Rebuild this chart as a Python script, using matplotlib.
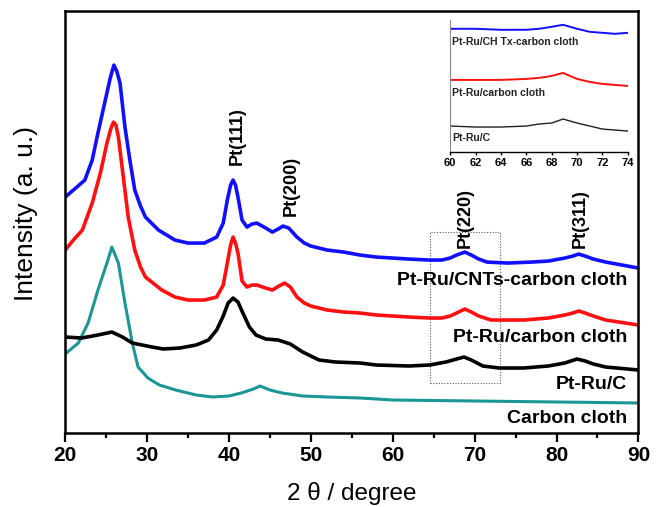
"""
XRD patterns: Pt-Ru catalysts on different supports, with inset around Pt(220).
"""

import numpy as np
import matplotlib.pyplot as plt
from matplotlib.patches import Rectangle
from matplotlib.ticker import MultipleLocator

plt.rcParams['font.family'] = ['Liberation Sans', 'DejaVu Sans']

# Pt-Ru/CNTs-carbon cloth (blue)
blue_x = [20, 21, 22.4, 23.3, 24.0, 24.9, 25.5, 25.95, 26.3, 26.7, 27.3, 27.9, 28.5,
          29.2, 29.8, 31.4, 33.4, 35, 37, 38.5, 39.3, 39.8, 40.2, 40.5, 40.8, 41.1,
          41.6, 42.2, 42.8, 43.4, 44.5, 45.3, 46.0, 46.6, 47.3, 48.3, 49.2, 50, 52,
          54, 56, 58, 60, 62, 64.5, 66, 67, 67.8, 68.8, 69.6, 70.5, 71.5, 74, 77, 79,
          81, 82, 82.7, 83.5, 84.5, 86, 88, 90]
blue_y = [236, 243, 253, 273, 300, 333, 355, 368, 362, 350, 306, 273, 243,
          227, 216, 203, 193, 190, 190, 196, 210, 233, 248, 253, 248, 236,
          213, 206, 209, 210, 205, 201, 204, 207, 205, 196, 190, 187, 183,
          181, 178, 176, 175, 174, 173, 173, 175, 178, 181, 178, 174, 171, 170, 171, 172,
          175, 177, 179, 177, 174, 171, 168, 165]

# Pt-Ru/carbon cloth (red)
red_x = [20, 21, 22.1, 23.3, 24.3, 25.1, 25.6, 25.9, 26.2, 26.5, 27.1, 27.7, 28.5,
         29.2, 29.8, 31.8, 33.4, 35, 37, 38.5, 39.3, 39.8, 40.2, 40.5, 40.8, 41.1,
         41.6, 42.2, 42.8, 43.4, 44.5, 45.3, 46.1, 46.8, 47.5, 48.3, 49.2, 50, 52,
         54, 56, 58, 62, 64.5, 66, 67, 67.8, 68.8, 69.6, 70.5, 72, 76, 79, 81, 82,
         82.7, 83.5, 84.5, 86, 90]
red_y = [183, 193, 203, 230, 260, 290, 305, 311, 308, 296, 256, 216, 183,
         166, 156, 143, 136, 133, 133, 136, 148, 170, 188, 196, 190, 180,
         152, 146, 148, 148, 145, 143, 147, 150, 146, 136, 130, 127, 123,
         121, 120, 118, 116, 115, 115, 117, 120, 124, 121, 117, 113, 113, 115, 118, 120,
         122, 120, 117, 113, 108]

# Pt-Ru/C (black)
black_x = [20, 22, 24, 25.7, 27, 28.2, 30.6, 32, 34, 36, 37.5, 38.5, 39.3, 39.9, 40.5,
           41.1, 41.7, 42.5, 43.3, 44.5, 46, 47.5, 49, 51, 53, 56, 58, 62, 64.5, 66.5,
           67.8, 68.7, 69.6, 71, 73, 76, 79, 81, 82.5, 83.5, 84.5, 86, 90]
black_y = [96, 95, 98, 101, 96, 90, 86, 84, 85, 88, 93, 103, 117, 130, 135,
           131, 120, 106, 98, 94, 93, 89, 81, 73, 71, 70, 68, 67, 68, 71,
           74, 76, 73, 67, 65, 65, 67, 70, 74, 72, 69, 66, 63]

# Carbon cloth (teal)
teal_x = [20, 21.6, 22.8, 24.0, 25.1, 25.7, 26.5, 27.3, 28.2, 28.9, 30.1, 31.5, 33.5,
          36, 38, 40, 41.5, 43, 43.8, 45, 46.5, 49, 52, 56, 60, 70, 80, 90]
teal_y = [79, 90, 110, 143, 170, 186, 170, 130, 90, 66, 55, 48, 43,
          38, 36, 37, 40, 44, 47, 43, 40, 37, 36, 35, 33, 32, 31, 30]

# inset (60-74 degree)
in_x = [60, 62, 64, 66, 67, 68, 68.9, 70, 71, 72, 73, 74]
in_blue = [123, 123, 122, 122, 123, 125, 127, 123, 120, 119, 118, 119]
in_red = [72, 72, 72, 73, 74, 76, 79, 73, 70, 68, 67, 66]
in_black = [26, 25, 25, 26, 28, 29, 33, 29, 26, 23, 22, 21]

curve_labels = ['Pt-Ru/CNTs-carbon cloth', 'Pt-Ru/carbon cloth', 'Pt-Ru/C', 'Carbon cloth']
label_y = [153, 96, 48, 14]
peaks = ['Pt(111)', 'Pt(200)', 'Pt(220)', 'Pt(311)']
peak_x = [41.0, 47.6, 68.8, 82.9]
peak_y = [297, 247, 215, 215]

fig = plt.figure(figsize=(6.65, 5.07), dpi=100)
ax = fig.add_axes([0.098, 0.146, 0.862, 0.832])

ax.plot(teal_x, teal_y, color='#1a9696', lw=2.2)
ax.plot(black_x, black_y, color='black', lw=2.6)
ax.plot(red_x, red_y, color='#ff1010', lw=2.6)
ax.plot(blue_x, blue_y, color='#1010ff', lw=2.6)

ax.set_xlim(20, 90)
ax.set_ylim(0, 422)
ax.set_yticks([])
ax.xaxis.set_major_locator(MultipleLocator(10))
ax.xaxis.set_minor_locator(MultipleLocator(5))
ax.tick_params(axis='x', which='major', length=6.5, width=1.6, direction='out',
               labelsize=15, pad=3)
ax.tick_params(axis='x', which='minor', length=3.5, width=1.6, direction='out')
for lab in ax.get_xticklabels():
    lab.set_fontweight('bold')
for sp in ax.spines.values():
    sp.set_linewidth(1.8)

ax.set_xlabel('2 θ / degree', fontsize=17.5, labelpad=12)
ax.set_ylabel('Intensity (a. u.)', fontsize=19)
ax.yaxis.set_label_coords(-0.048, 0.52)

for txt, y in zip(curve_labels, label_y):
    ax.text(88.6, y, txt, ha='right', va='center', fontsize=14, fontweight='bold')
for txt, x, y in zip(peaks, peak_x, peak_y):
    ax.text(x, y, txt, rotation=90, ha='center', va='center', fontsize=13,
            fontweight='bold')

ax.add_patch(Rectangle((64.5, 50), 8.6, 151, fill=False, ls=(0, (1, 1.5)),
                       lw=0.8, ec='#555555'))

# inset
ins = fig.add_axes([0.677, 0.700, 0.267, 0.261])
ins.plot(in_x, in_blue, color='#1010ff', lw=1.4)
ins.plot(in_x, in_red, color='#ff1010', lw=1.4)
ins.plot(in_x, in_black, color='#222222', lw=1.0)
ins.set_xlim(60, 74)
ins.set_ylim(0, 132)
ins.set_yticks([])
ins.xaxis.set_major_locator(MultipleLocator(2))
ins.tick_params(axis='x', length=2.5, width=1, labelsize=8, pad=2)
for lab in ins.get_xticklabels():
    lab.set_fontweight('bold')
ins.spines['top'].set_visible(False)
ins.spines['right'].set_visible(False)
ins.spines['left'].set_color('#888888')
ins.spines['bottom'].set_linewidth(1.0)
ins.patch.set_alpha(0)

in_labels = ['Pt-Ru/CH Tx-carbon cloth', 'Pt-Ru/carbon cloth', 'Pt-Ru/C']
in_label_y = [110, 59, 14]
for txt, y in zip(in_labels, in_label_y):
    ins.text(60.15, y, txt, ha='left', va='center', fontsize=7.5, fontweight='bold',
             color='#222222')

fig.savefig('out.png', dpi=100)
